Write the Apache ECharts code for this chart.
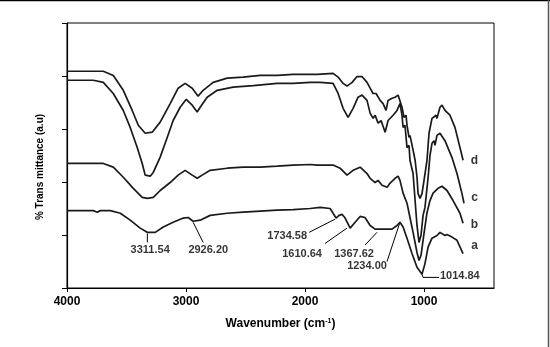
<!DOCTYPE html>
<html>
<head>
<meta charset="utf-8">
<script src="https://cdn.jsdelivr.net/npm/echarts@6.0.0/dist/echarts.min.js"></script>
<style>
  html, body { margin: 0; padding: 0; background: #fff; }
  #chart { width: 550px; height: 347px; }
</style>
</head>
<body>
<div id="chart"></div>
<script>
// spectra: [wavenumber, transmittance (a.u.)]
const curveD = [
  [4000, 4.09], [3695, 4.09], [3611, 4.01], [3527, 3.73], [3452, 3.35], [3401, 3.07],
  [3343, 2.92], [3284, 2.94], [3217, 3.13], [3133, 3.48], [3066, 3.77], [3007, 3.86],
  [2948, 3.77], [2898, 3.62], [2856, 3.73], [2772, 3.88], [2654, 3.96], [2520, 3.98],
  [2377, 4.01], [2234, 4.01], [2100, 4.03], [1957, 4.03], [1898, 4.03], [1764, 4.05],
  [1722, 3.98], [1680, 3.86], [1647, 3.81], [1604, 3.88], [1563, 3.99], [1521, 3.99],
  [1479, 3.88], [1453, 3.77], [1428, 3.67], [1403, 3.67], [1369, 3.54], [1344, 3.48],
  [1319, 3.35], [1302, 3.54], [1269, 3.58], [1243, 3.60], [1218, 3.64], [1202, 3.64],
  [1185, 3.41], [1168, 3.22], [1151, 3.26], [1143, 3.07], [1126, 2.84], [1118, 2.88],
  [1092, 2.60], [1075, 2.41], [1059, 2.09], [1050, 1.78], [1034, 1.69], [1017, 1.78],
  [1000, 2.03], [975, 2.41], [958, 2.92], [933, 3.20], [899, 3.26], [891, 3.20],
  [866, 3.41], [849, 3.45], [824, 3.35], [782, 3.26], [740, 3.03], [698, 2.65], [672, 2.41]
];
const curveC = [
  [4000, 3.92], [3779, 3.92], [3695, 3.88], [3611, 3.67], [3527, 3.35], [3469, 3.03],
  [3410, 2.65], [3368, 2.35], [3343, 2.13], [3301, 2.11], [3275, 2.18], [3217, 2.47],
  [3158, 2.84], [3108, 3.16], [3049, 3.41], [2998, 3.56], [2948, 3.45], [2906, 3.32],
  [2881, 3.41], [2822, 3.60], [2738, 3.73], [2604, 3.79], [2436, 3.82], [2234, 3.86],
  [2100, 3.86], [1957, 3.88], [1873, 3.88], [1764, 3.86], [1722, 3.67], [1680, 3.39],
  [1638, 3.22], [1596, 3.39], [1554, 3.60], [1521, 3.64], [1479, 3.54], [1453, 3.30],
  [1428, 3.20], [1411, 3.26], [1386, 3.11], [1361, 3.16], [1327, 2.94], [1302, 3.16],
  [1260, 3.26], [1227, 3.35], [1202, 3.48], [1185, 3.26], [1176, 3.03], [1160, 3.07],
  [1143, 2.65], [1126, 2.69], [1118, 2.41], [1092, 2.16], [1075, 1.65], [1059, 1.18],
  [1042, 0.86], [1025, 1.00], [1008, 1.37], [992, 1.52], [966, 2.08], [950, 2.50],
  [933, 2.73], [916, 2.78], [908, 2.69], [891, 2.88], [866, 2.92], [824, 2.78],
  [765, 2.46], [723, 2.16], [681, 1.78], [664, 1.60]
];
const curveB = [
  [4000, 2.35], [3695, 2.35], [3611, 2.28], [3527, 2.09], [3443, 1.88], [3368, 1.71],
  [3326, 1.69], [3275, 1.71], [3217, 1.84], [3133, 1.99], [3066, 2.13], [3007, 2.22],
  [2948, 2.13], [2906, 2.07], [2864, 2.13], [2797, 2.22], [2654, 2.26], [2520, 2.28],
  [2377, 2.28], [2234, 2.30], [2100, 2.32], [1957, 2.33], [1898, 2.32], [1764, 2.32],
  [1705, 2.26], [1647, 2.13], [1596, 2.22], [1537, 2.28], [1479, 2.16], [1453, 2.07],
  [1411, 1.99], [1386, 2.03], [1353, 1.94], [1310, 1.90], [1285, 1.98], [1243, 2.07],
  [1218, 2.11], [1202, 2.03], [1176, 1.79], [1143, 1.60], [1118, 1.33], [1092, 1.05],
  [1059, 0.67], [1042, 0.52], [1025, 0.62], [1000, 1.03], [975, 1.42], [950, 1.65],
  [924, 1.79], [882, 1.88], [849, 1.92], [807, 1.84], [756, 1.65], [698, 1.41], [672, 1.22]
];
const curveA = [
  [4000, 1.46], [3779, 1.46], [3746, 1.43], [3720, 1.46], [3636, 1.46], [3552, 1.41],
  [3469, 1.28], [3385, 1.13], [3326, 1.05], [3259, 1.05], [3191, 1.15], [3108, 1.24],
  [3023, 1.32], [2982, 1.33], [2940, 1.26], [2881, 1.28], [2797, 1.37], [2654, 1.41],
  [2520, 1.43], [2377, 1.45], [2234, 1.47], [2100, 1.48], [1957, 1.50], [1873, 1.52],
  [1789, 1.50], [1764, 1.41], [1739, 1.32], [1714, 1.37], [1689, 1.39], [1663, 1.32],
  [1621, 1.13], [1579, 1.24], [1537, 1.35], [1496, 1.33], [1453, 1.18], [1411, 1.11],
  [1353, 1.11], [1310, 1.11], [1269, 1.11], [1227, 1.18], [1202, 1.24], [1176, 1.15],
  [1143, 0.94], [1101, 0.65], [1059, 0.39], [1017, 0.26], [992, 0.46], [966, 0.77],
  [933, 0.94], [891, 0.99], [866, 1.05], [824, 0.99], [807, 1.01], [765, 0.96],
  [723, 0.90], [672, 0.65]
];

const xTicks = [4000, 3000, 2000, 1000];

// curve names at the right end
const curveLabels = [[576, 2.41, 'd'], [576, 1.71, 'c'], [576, 1.20, 'b'], [576, 0.80, 'a']];

// peak annotations: text, text position, leader line points
const peakTexts = ['3311.54', '2926.20', '1734.58', '1610.64', '1367.62', '1234.00', '1014.84'];
const peakTextPos = [[3301, 0.71], [2813, 0.71], [2150, 0.98], [2025, 0.65], [1588, 0.65], [1479, 0.41], [866, 0.22]];
const peakLeaders = [
  [[3325, 1.03], [3325, 0.86]],
  [[2940, 1.24], [2856, 0.86]],
  [[1747, 1.30], [1965, 1.05]],
  [[1647, 1.13], [1832, 0.84]],
  [[1395, 1.05], [1496, 0.81]],
  [[1202, 1.24], [1311, 0.50]],
  [[1017, 0.26], [1008, 0.20], [874, 0.20]]
];

const font = '"Liberation Sans", Arial, sans-serif';
const chart = echarts.init(document.getElementById('chart'));

const lineSeries = (data) => ({
  type: 'line',
  data: data,
  showSymbol: false,
  silent: true,
  lineStyle: { color: '#1a1a1a', width: 1.7 }
});

chart.setOption({
  animation: false,
  grid: {
    left: 67, right: 56, top: 23, bottom: 59,
    show: true, borderColor: '#000', borderWidth: 1
  },
  xAxis: {
    type: 'value',
    inverse: true,
    min: 412,
    max: 4000,
    axisLine: { show: true, onZero: false, lineStyle: { color: '#000', width: 1.2 } },
    axisTick: { show: true, inside: false, length: 4, customValues: xTicks, lineStyle: { color: '#000' } },
    axisLabel: {
      customValues: xTicks, margin: 8, color: '#000',
      fontSize: 12, fontWeight: 'bold', fontFamily: font,
      formatter: v => String(v)
    },
    splitLine: { show: false },
    name: 'Wavenumber (cm{sup|-1})',
    nameLocation: 'middle',
    nameGap: 30,
    nameTextStyle: {
      color: '#000', fontSize: 12, fontWeight: 'bold', fontFamily: font,
      rich: { sup: { fontSize: 7, fontWeight: 'bold', fontFamily: font, color: '#000', verticalAlign: 'top' } }
    }
  },
  yAxis: {
    type: 'value',
    min: 0,
    max: 5,
    interval: 1,
    axisLine: { show: true, lineStyle: { color: '#000', width: 1.2 } },
    axisTick: { show: true, inside: false, length: 5, lineStyle: { color: '#000' } },
    axisLabel: { show: false },
    splitLine: { show: false }
  },
  graphic: [
    {
      type: 'text', x: 40, y: 167, rotation: Math.PI / 2,
      style: {
        text: '% Trans mittance (a.u)', fill: '#000',
        font: 'bold 10px ' + font, align: 'center', verticalAlign: 'middle'
      }
    },
    { type: 'line', shape: { x1: 0, y1: 0.5, x2: 550, y2: 0.5 }, style: { stroke: '#000', lineWidth: 1.5 } },
    { type: 'line', shape: { x1: 548.5, y1: 0, x2: 548.5, y2: 347 }, style: { stroke: '#555', lineWidth: 1.5 } }
  ],
  series: [
    lineSeries(curveA),
    lineSeries(curveB),
    lineSeries(curveC),
    lineSeries(curveD),
    {
      type: 'lines',
      coordinateSystem: 'cartesian2d',
      polyline: true,
      silent: true,
      lineStyle: { color: '#000', width: 1, opacity: 1 },
      data: peakLeaders.map(c => ({ coords: c }))
    },
    {
      type: 'scatter',
      symbolSize: 0,
      silent: true,
      data: peakTexts.map((t, i) => ({
        value: [peakTextPos[i][0], peakTextPos[i][1], t],
        label: { align: i === 6 ? 'left' : 'center' }
      })),
      label: {
        show: true, position: 'inside', color: '#000',
        fontSize: 11, fontWeight: 'bold', fontFamily: font,
        formatter: p => p.value[2]
      }
    },
    {
      type: 'scatter',
      symbolSize: 0,
      silent: true,
      data: curveLabels,
      label: {
        show: true, position: 'inside', color: '#000',
        fontSize: 12, fontWeight: 'bold', fontFamily: font,
        formatter: p => p.value[2]
      }
    }
  ]
});
</script>
</body>
</html>
